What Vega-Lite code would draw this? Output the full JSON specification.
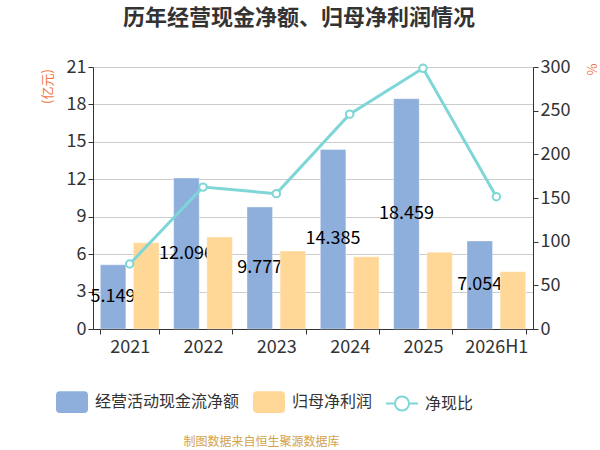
{
  "$schema": "https://vega.github.io/schema/vega-lite/v6.json",
  "autosize": {"type": "none"},
  "padding": {"left": 93, "top": 67, "right": 67, "bottom": 121},
  "width": 440,
  "height": 262,
  "background": "white",
  "config": {
    "font": "Noto Sans CJK SC",
    "view": {"stroke": null},
    "axis": {
      "domainColor": "#333333",
      "tickColor": "#333333",
      "labelColor": "#333333",
      "labelFontSize": 18,
      "tickSize": 5,
      "gridColor": "#cccccc",
      "titleFontWeight": "normal"
    },
    "legend": {
      "orient": "none",
      "direction": "horizontal",
      "legendX": -37,
      "legendY": 319,
      "title": null,
      "labelFontSize": 16,
      "labelColor": "#333333",
      "labelOffset": 7,
      "columnPadding": 13,
      "symbolSize": 1024,
      "symbolStrokeWidth": 0
    }
  },
  "title": {
    "text": "历年经营现金净额、归母净利润情况",
    "fontSize": 22,
    "fontWeight": "bold",
    "color": "#333333",
    "anchor": "middle",
    "baseline": "bottom",
    "offset": 6,
    "dx": -14
  },
  "data": {
    "values": [
      {"year": "2021", "cfo": 5.149, "np": 6.92, "ratio": 74.4},
      {"year": "2022", "cfo": 12.096, "np": 7.37, "ratio": 162.5},
      {"year": "2023", "cfo": 9.777, "np": 6.25, "ratio": 155.0},
      {"year": "2024", "cfo": 14.385, "np": 5.79, "ratio": 246.0},
      {"year": "2025", "cfo": 18.459, "np": 6.15, "ratio": 298.5},
      {"year": "2026H1", "cfo": 7.054, "np": 4.59, "ratio": 151.5}
    ]
  },
  "encoding": {
    "x": {
      "field": "year",
      "type": "nominal",
      "sort": null,
      "scale": {"paddingInner": 0.2, "paddingOuter": 0.1},
      "axis": {
        "labelAngle": 0,
        "tickBand": "extent",
        "labelPadding": 4,
        "title": "制图数据来自恒生聚源数据库",
        "titleColor": "#D4A24C",
        "titleFontSize": 12,
        "titleX": 168,
        "titleY": 112,
        "titleAlign": "center",
        "titleBaseline": "middle"
      }
    }
  },
  "layer": [
    {
      "mark": {"type": "bar", "stroke": "#ffffff", "strokeOpacity": 0.35, "strokeWidth": 1},
      "encoding": {
        "xOffset": {"datum": "经营活动现金流净额", "scale": {"domain": ["经营活动现金流净额", "归母净利润"], "paddingInner": 0.23}},
        "y": {
          "field": "cfo",
          "type": "quantitative",
          "scale": {"domain": [0, 21]},
          "axis": {
            "values": [0, 3, 6, 9, 12, 15, 18, 21],
            "grid": true,
            "title": "(亿元)",
            "titleColor": "#EE7744",
            "titleFontSize": 13,
            "titleAngle": -90,
            "titleX": -46,
            "titleY": 19,
            "titleAlign": "center",
            "titleBaseline": "middle"
          }
        },
        "color": {
          "datum": "经营活动现金流净额",
          "scale": {
            "domain": ["经营活动现金流净额", "归母净利润", "净现比"],
            "range": ["#8EAEDB", "#FFD898", "#7FD6D6"]
          }
        }
      }
    },
    {
      "mark": {"type": "text", "fontSize": 18, "color": "#000000"},
      "encoding": {
        "xOffset": {"datum": "经营活动现金流净额"},
        "y": {"field": "cfo", "type": "quantitative", "scale": {"domain": [0, 42]}, "axis": null},
        "text": {"field": "cfo", "type": "quantitative", "format": ".3f"}
      }
    },
    {
      "mark": {"type": "bar", "stroke": "#ffffff", "strokeOpacity": 0.35, "strokeWidth": 1},
      "encoding": {
        "xOffset": {"datum": "归母净利润"},
        "y": {"field": "np", "type": "quantitative", "scale": {"domain": [0, 21]}, "axis": null},
        "color": {"datum": "归母净利润"}
      }
    },
    {
      "mark": {"type": "line", "strokeWidth": 3, "point": {"filled": true, "fill": "#ffffff", "stroke": "#7FD6D6", "strokeWidth": 2, "size": 55}},
      "encoding": {
        "y": {
          "field": "ratio",
          "type": "quantitative",
          "scale": {"domain": [0, 300]},
          "axis": {
            "orient": "right",
            "values": [0, 50, 100, 150, 200, 250, 300],
            "grid": false,
            "title": "%",
            "titleColor": "#EE7744",
            "titleFontSize": 13,
            "titleAngle": 90,
            "titleX": 57,
            "titleY": 2,
            "titleAlign": "center",
            "titleBaseline": "middle"
          }
        },
        "color": {
          "datum": "净现比",
          "legend": {
            "encode": {
              "symbols": {
                "update": {
                  "shape": {"signal": "datum.value === '净现比' ? 'M-1,-0.06H-0.49V0.06H-1Z M0.49,-0.06H1V0.06H0.49Z M0.5,0L0.462,0.191L0.354,0.354L0.191,0.462L0,0.5L-0.191,0.462L-0.354,0.354L-0.462,0.191L-0.5,0L-0.462,-0.191L-0.354,-0.354L-0.191,-0.462L0,-0.5L0.191,-0.462L0.354,-0.354L0.462,-0.191Z M0.38,0L0.351,-0.145L0.269,-0.269L0.145,-0.351L0,-0.38L-0.145,-0.351L-0.269,-0.269L-0.351,-0.145L-0.38,0L-0.351,0.145L-0.269,0.269L-0.145,0.351L0,0.38L0.145,0.351L0.269,0.269L0.351,0.145Z' : 'M-0.8,-0.68H0.8L0.941,-0.621L1,-0.48V0.48L0.941,0.621L0.8,0.68H-0.8L-0.941,0.621L-1,0.48V-0.48L-0.941,-0.621Z'"},
                  "strokeWidth": {"value": 0}
                }
              }
            }
          }
        }
      }
    }
  ],
  "resolve": {"scale": {"y": "independent"}}
}
